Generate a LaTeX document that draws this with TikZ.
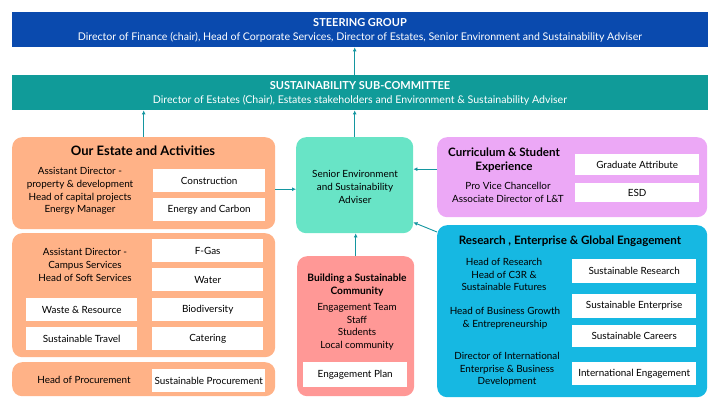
\documentclass[tikz,border=0pt]{standalone}
\usepackage{fontspec}
\setmainfont{Lato}
\usetikzlibrary{arrows.meta}
\definecolor{steerBlue}{RGB}{10,74,174}
\definecolor{subTeal}{RGB}{16,155,153}
\definecolor{estatePeach}{RGB}{255,178,135}
\definecolor{adviserMint}{RGB}{104,228,198}
\definecolor{communityCoral}{RGB}{255,152,150}
\definecolor{curricLilac}{RGB}{236,168,246}
\definecolor{researchCyan}{RGB}{22,184,226}
\definecolor{linkTeal}{RGB}{20,150,160}
\tikzset{
  group/.style={rounded corners=10pt,anchor=north west,inner sep=0pt},
  item/.style={fill=white,anchor=north west,inner sep=0pt,align=center,font=\fontsize{9.9}{11}\selectfont},
  lbl/.style={align=center,font=\fontsize{9.9}{12.6}\selectfont},
  band/.style={white,align=center,font=\fontsize{10.6}{12}\selectfont},
  head/.style={align=center,font=\fontsize{11.6}{14}\selectfont\bfseries},
  link/.style={draw=linkTeal,line width=0.9pt,-{Latex[length=4pt,width=4pt]}}
}

\begin{document}
\begin{tikzpicture}[x=1pt,y=-1pt]
\useasboundingbox (0,0) rectangle (720,406);
% top bands
\node[anchor=north west,inner sep=0pt,fill=steerBlue,minimum width=696pt,minimum height=35pt] (steer) at (12,12) {};
\node[white,font=\fontsize{11}{12}\selectfont\bfseries] (steerT) at (360,23) {STEERING GROUP};
\node[band] (steerS) at (360,37) {Director of Finance (chair), Head of Corporate Services, Director of Estates, Senior Environment and Sustainability Adviser};
\node[anchor=north west,inner sep=0pt,fill=subTeal,minimum width=696pt,minimum height=35pt] (subc) at (12,75) {};
\node[white,font=\fontsize{11}{12}\selectfont\bfseries] (subcT) at (360,86) {SUSTAINABILITY SUB-COMMITTEE};
\node[band] (subcS) at (360,100) {Director of Estates (Chair), Estates stakeholders and Environment \& Sustainability Adviser};
% estate
\node[group,fill=estatePeach,minimum width=263pt,minimum height=92pt] (estate) at (12,137) {};
\node[head,font=\fontsize{13}{14}\selectfont\bfseries] (estateT) at (143,151) {Our Estate and Activities};
\node[lbl] (estateL) at (80,191) {Assistant Director -\\property \& development\\Head of capital projects\\Energy Manager};
\node[item,minimum width=112pt,minimum height=23pt] (constr) at (153,169) {Construction};
\node[item,minimum width=112pt,minimum height=23pt] (energy) at (153,198) {Energy and Carbon};
\node[group,fill=estatePeach,minimum width=263pt,minimum height=124pt] (campus) at (12,233) {};
\node[lbl] (campusL) at (85,265) {Assistant Director -\\Campus Services\\Head of Soft Services};
\node[item,minimum width=111pt,minimum height=23pt] (fgas) at (152,239) {F-Gas};
\node[item,minimum width=111pt,minimum height=23pt] (water) at (152,268) {Water};
\node[item,minimum width=111pt,minimum height=23pt] (biodiv) at (152,298) {Biodiversity};
\node[item,minimum width=111pt,minimum height=23pt] (catering) at (152,327) {Catering};
\node[item,minimum width=111pt,minimum height=23pt] (waste) at (26,298) {Waste \& Resource};
\node[item,minimum width=111pt,minimum height=23pt] (travel) at (26,327) {Sustainable Travel};
\node[group,fill=estatePeach,minimum width=263pt,minimum height=34pt] (procure) at (12,362) {};
\node[lbl] (procureL) at (84,380) {Head of Procurement};
\node[item,minimum width=113pt,minimum height=23pt] (susproc) at (152,369) {Sustainable Procurement};
% adviser and community
\node[group,fill=adviserMint,minimum width=117pt,minimum height=96pt] (adviser) at (296,137) {};
\node[lbl] (adviserL) at (355,187) {Senior Environment\\and Sustainability\\Adviser};
\node[group,fill=communityCoral,minimum width=117pt,minimum height=140pt] (community) at (297,256) {};
\node[head,font=\fontsize{10.2}{13}\selectfont\bfseries] (communityT) at (357,285.5) {Building a Sustainable\\Community};
\node[lbl] (communityL) at (357,327) {Engagement Team\\Staff\\Students\\Local community};
\node[item,minimum width=104pt,minimum height=25pt] (engplan) at (303,362) {Engagement Plan};
% curriculum
\node[group,fill=curricLilac,minimum width=270pt,minimum height=80pt] (curric) at (437,137) {};
\node[head] (curricT) at (504,160) {Curriculum \& Student\\Experience};
\node[lbl] (curricL) at (508,192.5) {Pro Vice Chancellor\\Associate Director of L\&T};
\node[item,minimum width=124pt,minimum height=21pt] (gradattr) at (575,154) {Graduate Attribute};
\node[item,minimum width=124pt,minimum height=19pt] (esd) at (575,183) {ESD};
% research
\node[group,fill=researchCyan,minimum width=270pt,minimum height=172pt] (research) at (437,225) {};
\node[head] (researchT) at (570,241) {Research , Enterprise \& Global Engagement};
\node[lbl] (researchA) at (504,274.5) {Head of Research\\Head of C3R \&\\Sustainable Futures};
\node[lbl] (researchB) at (505,318.5) {Head of Business Growth\\\& Entrepreneurship};
\node[lbl] (researchC) at (507,369.5) {Director of International\\Enterprise \& Business\\Development};
\node[item,minimum width=124pt,minimum height=24pt] (susres) at (572,259) {Sustainable Research};
\node[item,minimum width=124pt,minimum height=24pt] (susent) at (572,294) {Sustainable Enterprise};
\node[item,minimum width=124pt,minimum height=22pt] (suscar) at (572,325) {Sustainable Careers};
\node[item,minimum width=124pt,minimum height=23pt] (intl) at (572,362) {International Engagement};
% connectors
\draw[link] (subc.north -| adviser.north) -- (steer.south -| adviser.north);
\draw[link] (adviser.north) -- (adviser.north |- subc.south);
\draw[link] (estate.north) -- (estate.north |- subc.south);
\draw[link] ([yshift=-6pt]estate.east) -- ([yshift=-6pt]estate.east -| adviser.west);
\draw[link] ([yshift=8pt]curric.west) -- ([yshift=8pt]curric.west -| adviser.east);
\draw[link] ([yshift=-7pt]research.north west) -- ([yshift=11pt]adviser.south east);
\draw[link] (community.north) -- (community.north |- adviser.south);
\end{tikzpicture}
\end{document}
